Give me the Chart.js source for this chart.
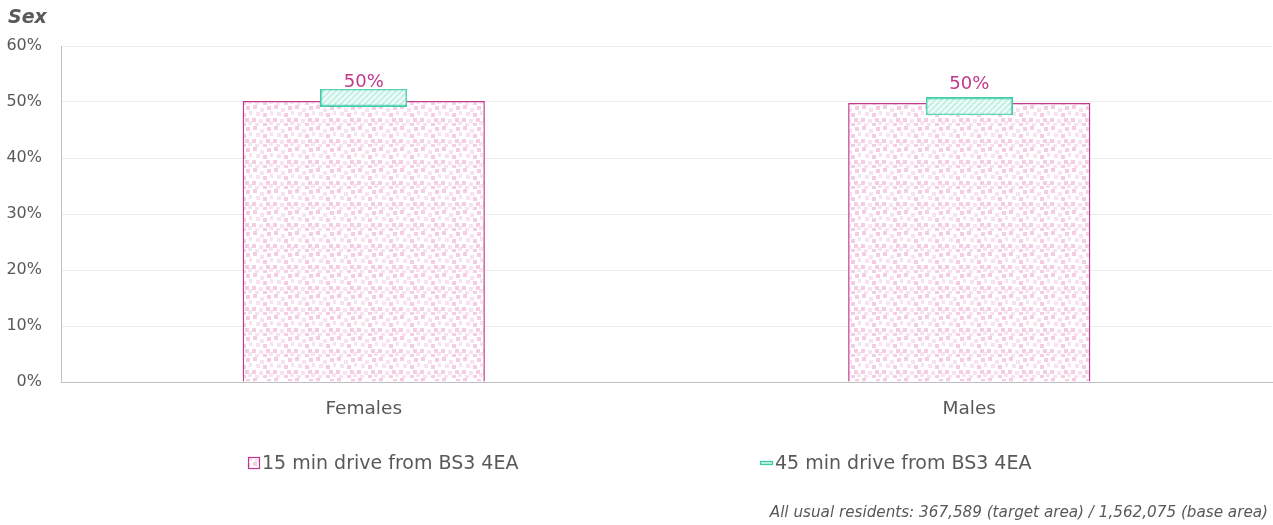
<!DOCTYPE html>
<html>
<head>
<meta charset="utf-8">
<script src="https://cdn.jsdelivr.net/npm/chart.js@4"></script>
<style>
  html, body { margin: 0; padding: 0; background: #fff; overflow: hidden; }
  #wrap { width: 1273px; height: 525px; position: relative; }
</style>
</head>
<body>
<div id="wrap"><canvas id="sexChart" width="1273" height="525"></canvas></div>
<script>
// datos del gráfico
const categories = ['Females', 'Males'];
const target15 = [50.2, 49.8];   // 15 min drive (%)
const base45 = [50.8, 49.2];     // 45 min drive (%)
const seriesNames = ['15 min drive from BS3 4EA', '45 min drive from BS3 4EA'];
const yTickLabels = ['0%', '10%', '20%', '30%', '40%', '50%', '60%'];
const chartTitle = 'Sex';
const footNote = 'All usual residents: 367,589 (target area) / 1,562,075 (base area)';

const FONT = '"DejaVu Sans", Verdana, sans-serif';
const GREY = '#595959';
const MAGENTA = '#c0378c';
const TEAL = '#3ecba8';

// patrón rosa tipo confetti
function makeConfetti() {
    const c = document.createElement('canvas');
    c.width = 21; c.height = 21;
    const g = c.getContext('2d');
    g.fillStyle = '#ffffff';
    g.fillRect(0, 0, 21, 21);
    const sq = [
        [1, 0, '#f4cde4'], [8, 3, '#f9e2ef'], [15, 1, '#f4cde4'],
        [4, 7, '#f9e2ef'], [11, 8, '#f4cde4'], [18, 6, '#f9e2ef'],
        [0, 13, '#f4cde4'], [7, 14, '#f9e2ef'], [14, 13, '#f4cde4'],
        [3, 18, '#f9e2ef'], [11, 18, '#f4cde4'], [17, 16, '#f9e2ef']
    ];
    sq.forEach(s => { g.fillStyle = s[2]; g.fillRect(s[0], s[1], 4, 4); });
    return g.createPattern(c, 'repeat');
}

// caja rayada para la serie de 45 min
function makeHatchBox(w, h) {
    const c = document.createElement('canvas');
    c.width = w; c.height = h;
    const g = c.getContext('2d');
    g.fillStyle = '#ffffff';
    g.fillRect(0, 0, w, h);
    g.save();
    g.beginPath(); g.rect(1, 1, w - 2, h - 2); g.clip();
    g.strokeStyle = '#c2f1e4';
    g.lineWidth = 2.5;
    for (let x = -h; x < w + h; x += 6) {
        g.beginPath(); g.moveTo(x, h); g.lineTo(x + h, 0); g.stroke();
    }
    g.restore();
    g.strokeStyle = TEAL;
    g.lineWidth = 1.5;
    g.strokeRect(0.75, 0.75, w - 1.5, h - 1.5);
    return c;
}

const confetti = makeConfetti();
const hatchBox = makeHatchBox(87, 18);

// textos, etiquetas y leyenda
const extras = {
    id: 'extras',
    afterDatasetsDraw(chart) {
        const ctx = chart.ctx;
        ctx.save();
        // etiquetas de datos
        const meta = chart.getDatasetMeta(1);
        ctx.fillStyle = MAGENTA;
        ctx.font = '18px ' + FONT;
        ctx.textAlign = 'center';
        ctx.textBaseline = 'alphabetic';
        meta.data.forEach((bar, i) => {
            ctx.fillText(Math.round(target15[i]) + '%', bar.x, bar.y - 14);
        });
        // título
        ctx.fillStyle = GREY;
        ctx.font = 'italic bold 19px ' + FONT;
        ctx.textAlign = 'left';
        ctx.textBaseline = 'middle';
        ctx.fillText(chartTitle, 8, 18);
        // leyenda
        ctx.font = '19px ' + FONT;
        ctx.fillStyle = confetti;
        ctx.fillRect(248, 457, 12, 12);
        ctx.strokeStyle = MAGENTA;
        ctx.lineWidth = 1.2;
        ctx.strokeRect(248.5, 457.5, 11, 11);
        ctx.fillStyle = GREY;
        ctx.fillText(seriesNames[0], 262, 464);
        ctx.fillStyle = '#c2f1e4';
        ctx.fillRect(760, 461, 13, 4);
        ctx.strokeStyle = TEAL;
        ctx.strokeRect(760.5, 461.5, 12, 3);
        ctx.fillStyle = GREY;
        ctx.fillText(seriesNames[1], 775, 464);
        // nota al pie
        ctx.font = 'italic 15.2px ' + FONT;
        ctx.textAlign = 'right';
        ctx.fillText(footNote, 1268, 513);
        ctx.restore();
    }
};

const ctx = document.getElementById('sexChart').getContext('2d');
const sexChart = new Chart(ctx, {
    data: {
        labels: categories,
        datasets: [{
            type: 'line',
            label: seriesNames[1],
            data: base45,
            showLine: false,
            pointStyle: hatchBox,
            pointRadius: 10,
            pointHoverRadius: 10,
            order: 0
        }, {
            type: 'bar',
            label: seriesNames[0],
            data: target15,
            backgroundColor: confetti,
            borderColor: MAGENTA,
            borderWidth: 1.5,
            barPercentage: 0.40,
            categoryPercentage: 1,
            grouped: false,
            order: 1
        }]
    },
    plugins: [extras],
    options: {
        responsive: false,
        animation: false,
        events: [],
        layout: { autoPadding: false, padding: { top: 46, right: 1, bottom: 98, left: 0 } },
        plugins: {
            legend: { display: false },
            tooltip: { enabled: false }
        },
        scales: {
            x: {
                offset: true,
                grid: { display: false, drawTicks: false },
                border: { color: '#bfbfbf', width: 1 },
                ticks: { color: GREY, font: { family: FONT, size: 18.5 }, padding: 16 },
                afterFit: s => { s.height = 45; }
            },
            y: {
                min: 0,
                max: 60,
                grid: { color: '#ececec', drawTicks: false },
                border: { color: '#bfbfbf', width: 1 },
                ticks: {
                    stepSize: 10,
                    color: GREY,
                    font: { family: FONT, size: 16 },
                    padding: 19,
                    callback: (v) => yTickLabels[Math.round(v / 10)]
                },
                afterFit: s => { s.width = 61; }
            }
        }
    }
});
</script>
</body>
</html>
